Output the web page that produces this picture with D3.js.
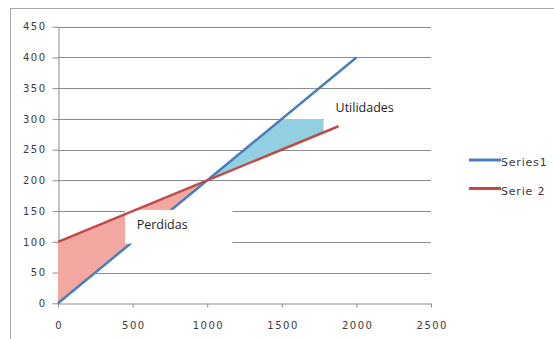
<!DOCTYPE html>
<meta charset="utf-8">
<style>
    body { margin: 0; background: #fff; }
    .grid line { stroke: #8c8c8c; stroke-width: 1px; }
    .axis path, .axis line { stroke: #8c8c8c; stroke-width: 1px; fill: none; }
    .axis text { font: 10px "DejaVu Sans", sans-serif; fill: #3a3a3a; letter-spacing: 1.5px; }
    .legend text { font: 11px "DejaVu Sans", sans-serif; fill: #3a3a3a; letter-spacing: 0.8px; }
    .note text { font: 12.5px "Open Sans", sans-serif; fill: #1e1e1e; }
</style>
<body>
<script src="https://d3js.org/d3.v7.min.js"></script>
<script>

// Series values
const series1X = [0, 2000];
const series1Y = [0, 400];
const series2X = [0, 1880];
const series2Y = [100, 288];
const seriesNames = ["Series1", "Serie 2"];
const seriesColors = ["#4a7ebb", "#be4b48"];

const xTicks = [0, 500, 1000, 1500, 2000, 2500];
const yTicks = [0, 50, 100, 150, 200, 250, 300, 350, 400, 450];

// shaded regions (x ranges in data units) and their labels
const lossRange = [0, 1000];
const profitRange = [1000, 1780];
const profitCap = 300;
const noteTexts = ["Perdidas", "Utilidades"];
const noteBoxesX = [[450, 1170], [1783, 2580]];
const noteBoxesY = [[97, 152], [290, 342]];

function drawChart() {
    const width = 554;
    const height = 339;

    const x = d3.scaleLinear().domain([0, 2500]).range([58, 431]);
    const y = d3.scaleLinear().domain([0, 450]).range([303.3, 26.7]);

    // each series as a piecewise linear function of x
    const s1 = d3.scaleLinear().domain(series1X).range(series1Y);
    const s2 = d3.scaleLinear().domain(series2X).range(series2Y);

    const svg = d3.select("body").append("svg")
        .attr("width", width)
        .attr("height", height);

    // chart frame (runs off the right and bottom edges)
    svg.append("rect")
        .attr("x", 10.5).attr("y", 8.5)
        .attr("width", 560).attr("height", 350)
        .attr("fill", "none")
        .attr("stroke", "#a6a6a6");

    svg.append("g").attr("class", "grid")
        .selectAll("line")
        .data(yTicks.filter(d => d > 0))
        .enter().append("line")
        .attr("x1", x(0)).attr("x2", x(2500))
        .attr("y1", d => Math.round(y(d)) + 0.5)
        .attr("y2", d => Math.round(y(d)) + 0.5);

    const xAxis = svg.append("g").attr("class", "axis")
        .attr("transform", `translate(0,${Math.round(y(0)) + 0.5})`)
        .call(d3.axisBottom(x).tickValues(xTicks).tickFormat(d3.format("d"))
            .tickSize(4).tickPadding(14).tickSizeOuter(0));
    xAxis.selectAll("text").attr("dx", "0.75px");

    svg.append("g").attr("class", "axis")
        .attr("transform", `translate(${Math.round(x(0)) + 0.5},0)`)
        .call(d3.axisLeft(y).tickValues(yTicks).tickFormat(d3.format("d"))
            .tickSize(6).tickPadding(6).tickSizeOuter(0));

    const area = d3.line().x(d => x(d[0])).y(d => y(d[1]));

    // loss region: between Serie 2 (top) and Series1 (bottom)
    const lossPts = [
        [lossRange[0], s2(lossRange[0])],
        [lossRange[1], s2(lossRange[1])],
        [lossRange[0], s1(lossRange[0])]
    ];
    svg.append("path")
        .attr("d", area(lossPts) + "Z")
        .attr("fill", "#f2a7a0");

    // profit region: between Series1 (capped) and Serie 2
    const capX = s1.invert(profitCap);
    const profitPts = [
        [profitRange[0], s1(profitRange[0])],
        [capX, profitCap],
        [profitRange[1], profitCap],
        [profitRange[1], s2(profitRange[1])]
    ];
    svg.append("path")
        .attr("d", area(profitPts) + "Z")
        .attr("fill", "#92cfe0");

    const line = d3.line().x(d => x(d[0])).y(d => y(d[1]));

    svg.append("path")
        .attr("d", line(series1X.map((v, i) => [v, series1Y[i]])))
        .attr("fill", "none")
        .attr("stroke", seriesColors[0])
        .attr("stroke-width", 2.5);

    // label boxes sit on top of the fills and grid
    const note = svg.append("g").attr("class", "note")
        .selectAll("g")
        .data(noteTexts)
        .enter().append("g");

    note.append("rect")
        .attr("x", (d, i) => x(noteBoxesX[i][0]))
        .attr("y", (d, i) => y(noteBoxesY[i][1]))
        .attr("width", (d, i) => x(noteBoxesX[i][1]) - x(noteBoxesX[i][0]))
        .attr("height", (d, i) => y(noteBoxesY[i][0]) - y(noteBoxesY[i][1]))
        .attr("fill", "#fff");

    note.append("text")
        .attr("x", (d, i) => x(noteBoxesX[i][0]) + 11.5)
        .attr("y", (d, i) => y(noteBoxesY[i][1]) + 19)
        .text(d => d);

    svg.append("path")
        .attr("d", line(series2X.map((v, i) => [v, series2Y[i]])))
        .attr("fill", "none")
        .attr("stroke", seriesColors[1])
        .attr("stroke-width", 2.5);

    const legend = svg.append("g").attr("class", "legend")
        .selectAll("g")
        .data(seriesNames)
        .enter().append("g")
        .attr("transform", (d, i) => `translate(469,${160 + i * 28.5})`);

    legend.append("line")
        .attr("x1", 0).attr("x2", 32)
        .attr("stroke", (d, i) => seriesColors[i])
        .attr("stroke-width", 3);

    legend.append("text")
        .attr("x", 32)
        .attr("y", 6)
        .text(d => d);
}

drawChart();

</script>
</body>
</html>
